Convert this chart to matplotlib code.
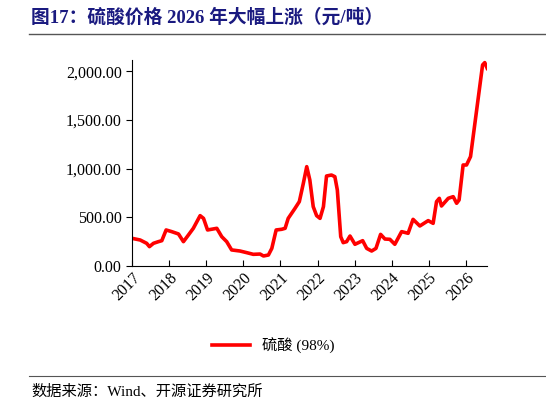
import matplotlib
matplotlib.use("Agg")
import matplotlib.pyplot as plt
import numpy as np
from matplotlib.ticker import FuncFormatter

plt.rcParams['font.family'] = ['Liberation Serif', 'Noto Sans CJK SC']

# months since Jan 2017, price (yuan/ton)
months = [0, 2.6, 4.7, 5.6, 6.9, 8.5, 9.6, 11, 12.8, 15, 16.6, 18.2, 19.8, 22, 23.1, 24.4,
          27.4, 29, 30.6, 32.2, 34.9, 37.1, 39.2, 41.4, 42.5, 44.1, 45.2, 46.6, 48.4, 49.5,
          50.5, 52.7, 54.1, 55.4, 56.5, 57.5, 58.6, 59.7, 60.8, 61.9, 62.9, 64.5, 65.6, 66.4,
          67.5, 68.3, 69.4, 70.5, 72.1, 74.6, 75.9, 77.5, 78.9, 80.4, 81.8, 83.4, 85, 87.2,
          89.3, 90.9, 93.1, 95.8, 97.4, 98.5, 99.4, 100.1, 102.3, 103.9, 105, 105.8, 107.1,
          108.2, 109.5, 113.4, 114.1, 114.9]
price = [284, 267, 233, 199, 233, 250, 260, 370, 353, 329, 250, 318, 387, 517, 489, 370,
         387, 301, 250, 165, 154, 137, 120, 123, 103, 113, 181, 370, 377, 387,
         489, 592, 661, 849, 1020, 883, 609, 517, 489, 609, 924, 934, 917, 780,
         301, 240, 250, 308, 223, 260, 181, 154, 181, 325, 277, 274, 223, 353,
         336, 479, 411, 466, 438, 661, 695, 616, 695, 712, 644, 678, 1037,
         1037, 1123, 2064, 2088, 2029]
years = list(range(2017, 2027))

x = [2017 + m / 12 for m in months]

fig = plt.figure(figsize=(5.46, 4.08), dpi=100)
ax = fig.add_axes([0.242, 0.348, 0.650, 0.505])
ax.plot(x, price, color='#ff0000', lw=2.6)
ax.set_xlim(2017, 2026.57)
ax.set_ylim(0, 2115)
ax.set_yticks([0, 500, 1000, 1500, 2000])
ax.yaxis.set_major_formatter(FuncFormatter(lambda v, p: f"{v:,.2f}"))
ax.set_xticks(years)
ax.set_xticklabels([str(y) for y in years], rotation=45, ha='right', rotation_mode='anchor')
ax.tick_params(labelsize=11.5, length=4, direction='out')
ax.tick_params(axis='x', direction='in', pad=3)
for s in ['top', 'right']:
    ax.spines[s].set_visible(False)

leg = fig.legend(['硫酸 (98%)'], loc='center', bbox_to_anchor=(0.5, 0.152),
                 frameon=False, fontsize=11, handlelength=2.5)

fig.text(0.057, 0.958, '图17：硫酸价格 2026 年大幅上涨（元/吨）', color='#1a1a80',
         fontsize=13.5, fontweight='bold', va='center',
         family=['Liberation Serif', 'Noto Sans CJK SC'])
fig.text(0.057, 0.04, '数据来源：Wind、开源证券研究所', fontsize=11, va='center',
         family=['Liberation Serif', 'Noto Sans CJK SC'])
fig.add_artist(plt.Line2D([0.053, 1.0], [0.917, 0.917], color='#555555', lw=1.0))
fig.add_artist(plt.Line2D([0.053, 1.0], [0.078, 0.078], color='#555555', lw=0.8))

fig.savefig('out.png', dpi=100)
